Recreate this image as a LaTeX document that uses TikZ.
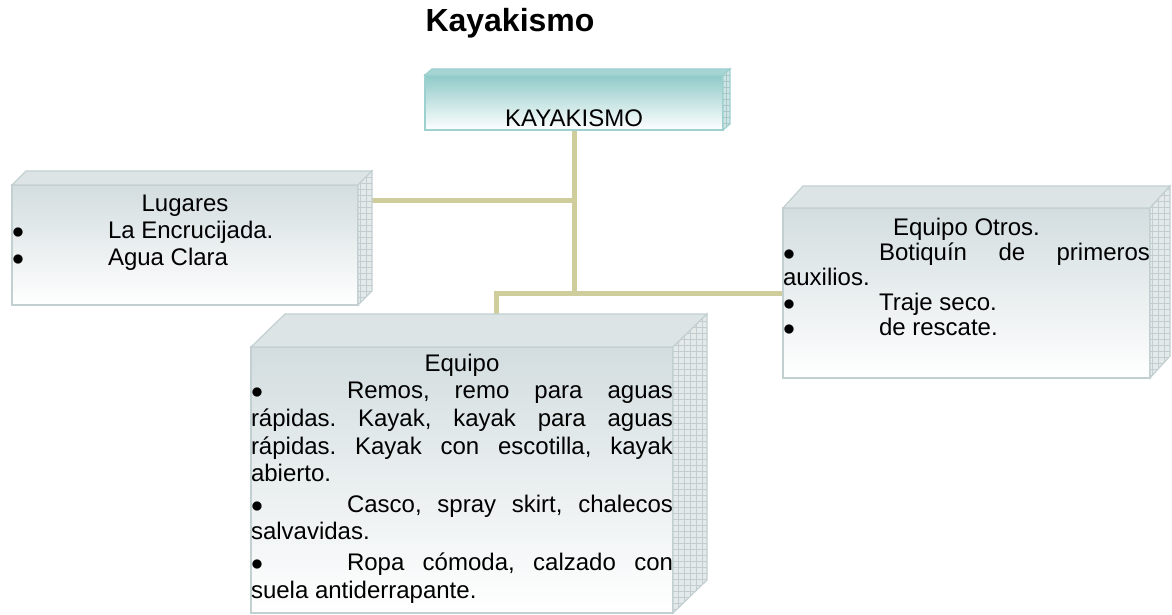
\documentclass[tikz,border=0pt]{standalone}
\usepackage{fontspec}
\setmainfont{Liberation Sans}
\usepackage{tikz}
\usetikzlibrary{positioning,calc,patterns,backgrounds}
\definecolor{conector}{HTML}{CFCD9B}
\definecolor{frentegris}{HTML}{D3DDDF}
\definecolor{bordegris}{HTML}{C3D0D2}
\definecolor{tapagris}{HTML}{DCE4E5}
\definecolor{ladogris}{HTML}{E4E9EA}
\definecolor{rejagris}{HTML}{C3CDCF}
\definecolor{frentecian}{HTML}{8FCAC8}
\definecolor{bordecian}{HTML}{9CD1CF}
\definecolor{tapacian}{HTML}{A6D6D4}
\definecolor{ladocian}{HTML}{CDE5E4}
\definecolor{rejacian}{HTML}{A8C6C5}
\newcommand{\vineta}{\makebox[48pt][l]{$\bullet$}}

\begin{document}
\begin{tikzpicture}[
  x=0.5pt, y=-0.5pt,
  every node/.style={
    inner sep=0pt,
    outer sep=0pt,
  },
  frente/.style={
    draw=borde#1,
    line width=0.6pt,
    top color=frente#1,
    bottom color=white,
    anchor=north west,
  },
  tapa/.style={
    draw=borde#1,
    line width=0.6pt,
    fill=tapa#1,
  },
  lado/.style={
    draw=borde#1,
    line width=0.6pt,
    fill=lado#1,
    postaction={pattern=grid, pattern color=reja#1},
  },
  texto/.style={
    align=justify,
    execute at begin node={\setlength{\parindent}{0pt}\setlength{\parskip}{#1}\frenchspacing
      \hyphenpenalty=10000 \exhyphenpenalty=10000 \tolerance=9999 \emergencystretch=20pt},
  },
  texto/.default=1.5pt,
  letra/.style={
    font=\fontsize{12}{#1}\selectfont,
  },
  letra/.default=13.8pt,
  titulo/.style={
    font=\fontsize{16}{19}\selectfont\bfseries,
    anchor=base,
  },
  conector/.style={
    draw=conector,
    line width=2.5pt,
  }
]
\useasboundingbox (0,0) rectangle (1172,615);
\node[titulo] (titulo) at (510,32) {Kayakismo};
% cajas
\node[frente=cian, minimum width=149pt, minimum height=27.5pt] (kayak) at (425,75) {};
\node[frente=gris, minimum width=173pt, minimum height=60pt] (lugares) at (12,185) {};
\node[frente=gris, minimum width=183.5pt, minimum height=85pt] (otros) at (783,208) {};
\node[frente=gris, minimum width=211pt, minimum height=133pt] (equipo) at (251,347) {};
\foreach \caja/\dx/\dy/\tinte in {kayak/7/-6/cian, lugares/14/-14/gris, otros/20/-22/gris, equipo/34/-33/gris}{
  \filldraw[tapa=\tinte] (\caja.north west) -- ++(\dx,\dy) -- ($(\caja.north east)+(\dx,\dy)$) -- (\caja.north east) -- cycle;
  \filldraw[lado=\tinte] (\caja.north east) -- ++(\dx,\dy) -- ($(\caja.south east)+(\dx,\dy)$) -- (\caja.south east) -- cycle;
}
% textos
\node[letra, above=1.5pt of kayak.south] (kayakTxt) {KAYAKISMO};
\node[texto=0pt, letra=13.5pt, text width=173pt, below=5pt of lugares.north] (lugaresTxt) {%
  \centerline{Lugares}
  \vineta La Encrucijada.\par
  \vineta Agua Clara};
\node[texto=0pt, letra=12.5pt, text width=183.5pt, below=5pt of otros.north] (otrosTxt) {%
  \centerline{Equipo Otros.}
  \vineta Botiquín de primeros auxilios.\par
  \vineta Traje seco.\par
  \vineta de rescate.};
\node[texto, letra, text width=211pt, below=3.5pt of equipo.north] (equipoTxt) {%
  \centerline{Equipo}
  \vineta Remos, remo para aguas rápidas. Kayak, kayak para aguas rápidas. Kayak con escotilla, kayak abierto.\par
  \vineta Casco, spray skirt, chalecos salvavidas.\par
  \vineta Ropa cómoda, calzado con suela antiderrapante.};
% conectores
\begin{scope}[on background layer]
\fill[white] (0,0) rectangle (1172,615);
\draw[conector] (kayak.south) |- (otros.west);
\draw[conector] ([yshift=-7.5pt]lugares.north east) -| (kayak.south);
\draw[conector] ([xshift=17pt]equipo.north) |- (kayak.south |- otros.west);
\end{scope}
\end{tikzpicture}
\end{document}
